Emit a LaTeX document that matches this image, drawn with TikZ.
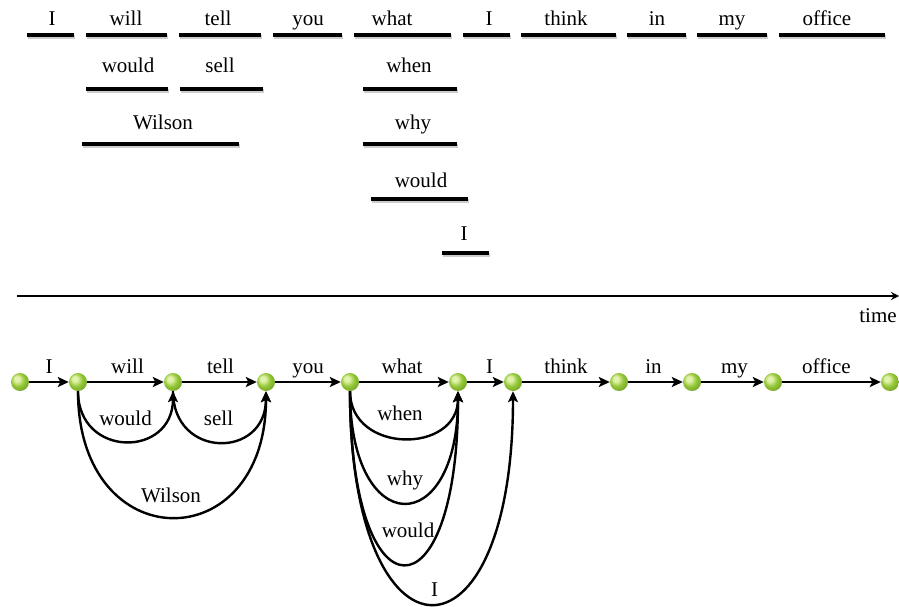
\documentclass[tikz,border=0pt]{standalone}
\usepackage{fontspec}
\setmainfont{Liberation Serif}
\usetikzlibrary{arrows.meta,shadings}
\definecolor{gHi}{RGB}{225,242,170}
\definecolor{gMid}{RGB}{150,200,60}
\definecolor{gLow}{RGB}{128,178,44}
\definecolor{gDark}{RGB}{90,130,25}
\pgfdeclareradialshading{greenball}{\pgfpoint{-10bp}{10bp}}{%
  color(0bp)=(gHi); color(7bp)=(gHi); color(18bp)=(gMid);
  color(26bp)=(gLow); color(40bp)=(gDark); color(50bp)=(gDark)}
\tikzset{
  txt/.style={font=\fontsize{21}{25}\selectfont, inner sep=0pt},
  word/.style={txt, anchor=base},
  bar/.style={line width=3.2pt},
  barshadow/.style={line width=3.2pt, black!20},
  state/.style={circle, minimum size=18pt, inner sep=0pt, shading=greenball},
  edge/.style={line width=2.4pt, -{Stealth[length=11pt,width=10pt,inset=2.5pt]}},
  elab/.style={txt, midway, anchor=base, yshift=9pt},
  alab/.style={txt, pos=0.5},
  axis/.style={line width=2.4pt, -{Stealth[length=8pt,width=8pt]}},
}
% a word with its bar underneath: name, text x, baseline, bar left, bar right, bar y, text
\newcommand{\wordbar}[7]{%
  \node[word] (#1) at (#2,#3) {#7};
  \draw[barshadow] (#4+1,#6+2) -- (#5+1,#6+2);
  \draw[bar] (#4,#6) -- (#5,#6);
}
\begin{document}
\begin{tikzpicture}[x=1pt,y=-1pt]
\useasboundingbox (0,0) rectangle (899,607);

% word lattice as overlapping bars
\wordbar{tI}{52}{26}{27}{74}{35}{I}
\wordbar{twill}{126}{26}{86}{167}{35}{will}
\wordbar{ttell}{218}{26}{179}{261}{35}{tell}
\wordbar{tyou}{308}{26}{273}{342}{35}{you}
\wordbar{twhat}{392}{26}{354}{451}{35}{what}
\wordbar{tIb}{489}{26}{463}{510}{35}{I}
\wordbar{tthink}{566}{26}{521}{616}{35}{think}
\wordbar{tin}{657}{26}{627}{686}{35}{in}
\wordbar{tmy}{732}{26}{697}{767}{35}{my}
\wordbar{toffice}{827}{26}{779}{885}{35}{office}

\wordbar{twould}{128}{73}{86}{168}{89}{would}
\wordbar{tsell}{220}{73}{180}{263}{89}{sell}
\wordbar{twhen}{409}{73}{363}{457}{89}{when}

\wordbar{twilson}{163}{130}{82}{239}{144}{Wilson}
\wordbar{twhy}{413}{130}{363}{457}{144}{why}

\wordbar{twouldb}{421}{187}{371}{468}{199}{would}
\wordbar{tIc}{464}{240}{442}{489}{253}{I}

% time axis
\coordinate (tstart) at (17,296);
\coordinate (tend) at (899,296);
\draw[axis] (tstart) -- (tend);
\node[word] (timelab) at (878,322) {time};

% word graph
\node[state] (n0) at (20,382) {};
\node[state] (n1) at (78,382) {};
\node[state] (n2) at (173,382) {};
\node[state] (n3) at (266,382) {};
\node[state] (n4) at (350,382) {};
\node[state] (n5) at (458,382) {};
\node[state] (n6) at (513,382) {};
\node[state] (n7) at (619,382) {};
\node[state] (n8) at (692,382) {};
\node[state] (n9) at (773,382) {};
\node[state] (n10) at (890,382) {};

\draw[edge] (n0) -- node[elab] {I} (n1);
\draw[edge] (n1) -- node[elab, xshift=2pt] {will} (n2);
\draw[edge] (n2) -- node[elab, xshift=1pt] {tell} (n3);
\draw[edge] (n3) -- node[elab] {you} (n4);
\draw[edge] (n4) -- node[elab, xshift=-2pt] {what} (n5);
\draw[edge] (n5) -- node[elab, xshift=4pt] {I} (n6);
\draw[edge] (n6) -- node[elab] {think} (n7);
\draw[edge] (n7) -- node[elab, xshift=-2pt] {in} (n8);
\draw[edge] (n8) -- node[elab, xshift=2pt] {my} (n9);
\draw[edge] (n9) -- node[elab, xshift=-5pt] {office} (n10);

% alternative arcs below the main path
\draw[edge] (n1.south) .. controls +(0,67) and +(0,67) .. node[alab, yshift=23pt] {would} (n2.south);
\draw[edge] (n2.south) .. controls +(0,68) and +(0,68) .. node[alab, yshift=24pt, xshift=-1pt] {sell} (n3.south);
\draw[edge] (n1.south) .. controls +(0,168) and +(0,168) .. node[alab, yshift=22pt, xshift=-1pt] {Wilson} (n3.south);
\draw[edge] (n4.south) .. controls +(0,63) and +(0,63) .. node[alab, yshift=25pt, xshift=-4pt] {when} (n5.south);
\draw[edge] (n4.south) .. controls +(0,149) and +(0,149) .. node[alab, yshift=22pt, xshift=1pt] {why} (n5.south);
\draw[edge] (n4.south) .. controls +(0,231) and +(0,231) .. node[alab, yshift=34pt, xshift=4pt] {would} (n5.south);
\draw[edge] (n4.south) .. controls +(0,284) and +(0,284) .. node[alab, yshift=15pt, xshift=3pt] {I} (n6.south);
\end{tikzpicture}
\end{document}
